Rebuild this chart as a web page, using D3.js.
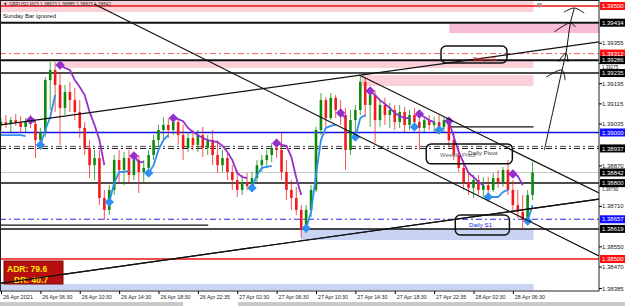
<!DOCTYPE html>
<html>
<head>
<meta charset="utf-8">
<script src="https://cdn.jsdelivr.net/npm/d3@7"></script>
<style>
body { margin: 0; background: #fff; }
svg { display: block; font-family: "Liberation Sans", Arial, sans-serif; }
</style>
</head>
<body>
<svg id="chart" width="625" height="306"></svg>
<script>
// GBPUSD 30 min bars, 26 Apr 02:30 .. 28 Apr 08:30
const opens = [1.39030,1.39041,1.39034,1.39049,1.39038,1.39022,1.39045,1.39034,1.38970,1.39002,
  1.39207,1.39247,1.39188,1.39097,1.39160,1.39128,1.39081,1.39018,1.38939,1.38871,
  1.38899,1.38741,1.38694,1.38773,1.38891,1.38852,1.38899,1.38832,1.38891,1.38844,
  1.38860,1.38911,1.38970,1.39010,1.39030,1.39010,1.39041,1.38990,1.38939,1.38978,
  1.38951,1.38990,1.38939,1.38970,1.38911,1.38871,1.38899,1.38844,1.38812,1.38773,
  1.38804,1.38788,1.38820,1.38871,1.38891,1.38911,1.38939,1.38931,1.38844,1.38773,
  1.38741,1.38694,1.38615,1.38694,1.38773,1.39010,1.39128,1.39057,1.39137,1.39089,
  1.39069,1.38931,1.39049,1.39089,1.39200,1.39109,1.39148,1.39049,1.39109,1.39069,
  1.39089,1.39041,1.39081,1.39030,1.39069,1.39041,1.39018,1.39049,1.39030,1.39041,
  1.39022,1.39049,1.38970,1.38911,1.38860,1.38804,1.38781,1.38812,1.38773,1.38792,
  1.38773,1.38820,1.38804,1.38852,1.38773,1.38713,1.38686,1.38654,1.38753];
const highs = [1.39057,1.39069,1.39061,1.39073,1.39065,1.39057,1.39069,1.39049,1.39018,1.39219,
  1.39279,1.39279,1.39239,1.39188,1.39200,1.39176,1.39128,1.39041,1.38970,1.38931,
  1.38931,1.38773,1.38792,1.38911,1.38931,1.38923,1.38931,1.38911,1.38911,1.38891,
  1.38931,1.38990,1.39030,1.39061,1.39057,1.39061,1.39049,1.39030,1.39002,1.39010,
  1.39010,1.39022,1.38990,1.39010,1.38970,1.38931,1.38919,1.38871,1.38852,1.38832,
  1.38840,1.38844,1.38891,1.38911,1.38931,1.38958,1.38970,1.38998,1.38891,1.38812,
  1.38785,1.38713,1.38713,1.38792,1.39022,1.39156,1.39140,1.39156,1.39148,1.39128,
  1.39097,1.39089,1.39109,1.39227,1.39219,1.39180,1.39168,1.39128,1.39137,1.39117,
  1.39109,1.39109,1.39101,1.39089,1.39097,1.39081,1.39061,1.39069,1.39061,1.39069,
  1.39061,1.39057,1.38998,1.38931,1.38891,1.38840,1.38832,1.38832,1.38824,1.38824,
  1.38840,1.38852,1.38864,1.38891,1.38812,1.38773,1.38753,1.38773,1.38885];
const lows = [1.39010,1.39018,1.39002,1.39026,1.38998,1.39002,1.39018,1.38899,1.38931,1.38982,
  1.39089,1.39081,1.38951,1.39069,1.39081,1.39049,1.38978,1.38911,1.38820,1.38812,
  1.38713,1.38654,1.38674,1.38753,1.38804,1.38792,1.38800,1.38812,1.38761,1.38800,
  1.38832,1.38891,1.38943,1.38970,1.38978,1.38990,1.38951,1.38891,1.38923,1.38931,
  1.38923,1.38903,1.38911,1.38871,1.38840,1.38844,1.38812,1.38773,1.38745,1.38753,
  1.38773,1.38765,1.38804,1.38844,1.38860,1.38883,1.38899,1.38812,1.38733,1.38694,
  1.38674,1.38583,1.38603,1.38666,1.38765,1.38990,1.39022,1.39049,1.39057,1.39030,
  1.38852,1.38911,1.38970,1.39069,1.39061,1.39022,1.38958,1.39022,1.39030,1.39018,
  1.39010,1.39018,1.39002,1.39010,1.39018,1.38931,1.39002,1.39010,1.39002,1.39010,
  1.39002,1.38943,1.38891,1.38844,1.38773,1.38753,1.38741,1.38753,1.38745,1.38753,
  1.38765,1.38781,1.38785,1.38753,1.38694,1.38662,1.38622,1.38634,1.38733];
const closes = [1.39041,1.39034,1.39049,1.39038,1.39022,1.39045,1.39034,1.38970,1.39002,1.39207,
  1.39247,1.39188,1.39097,1.39160,1.39128,1.39081,1.39018,1.38939,1.38871,1.38899,
  1.38741,1.38694,1.38773,1.38891,1.38852,1.38899,1.38832,1.38891,1.38844,1.38860,
  1.38911,1.38970,1.39010,1.39030,1.39010,1.39041,1.38990,1.38939,1.38978,1.38951,
  1.38990,1.38939,1.38970,1.38911,1.38871,1.38899,1.38844,1.38812,1.38773,1.38804,
  1.38788,1.38820,1.38871,1.38891,1.38911,1.38939,1.38931,1.38844,1.38773,1.38741,
  1.38694,1.38615,1.38694,1.38773,1.39010,1.39128,1.39057,1.39137,1.39089,1.39069,
  1.38931,1.39049,1.39089,1.39200,1.39109,1.39148,1.39049,1.39109,1.39069,1.39089,
  1.39041,1.39081,1.39030,1.39069,1.39041,1.39018,1.39049,1.39030,1.39041,1.39022,
  1.39049,1.38970,1.38911,1.38860,1.38804,1.38781,1.38812,1.38773,1.38792,1.38773,
  1.38820,1.38804,1.38852,1.38773,1.38713,1.38686,1.38654,1.38753,1.38842];

// trailing-stop style indicator (purple above price, blue below), null = not drawn
const purpleLine = [null,null,null,null,null,null,1.39049,1.39041,null,null,
  null,null,1.39267,1.39255,1.39247,1.39207,1.39180,1.39148,1.39081,1.39030,
  1.38970,1.38871,null,null,null,null,null,1.38907,1.38883,1.38883,
  null,null,null,null,null,1.39057,1.39053,1.39045,1.39018,1.39002,
  1.38990,1.38978,1.38970,1.38966,1.38962,1.38947,1.38923,1.38891,1.38840,1.38824,
  1.38820,null,null,null,null,null,1.38958,1.38951,1.38947,1.38903,
  1.38820,1.38753,null,null,null,null,null,null,null,1.39077,
  1.39057,null,null,null,null,1.39164,1.39148,1.39128,1.39113,1.39097,
  1.39077,1.39065,1.39057,1.39057,null,1.39073,1.39061,1.39049,1.39041,null,
  null,1.39045,1.38982,1.38923,1.38879,1.38840,1.38824,1.38804,1.38792,null,
  null,null,null,null,1.38836,1.38828,1.38792,null,null];
const blueLine = [1.38990,1.38990,1.38990,1.38990,1.38990,1.38986,null,null,1.38951,1.39010,
  1.39061,1.39148,null,null,null,null,null,null,null,null,
  null,null,1.38725,1.38800,1.38844,1.38844,1.38848,null,null,null,
  1.38840,1.38871,1.38931,1.38970,1.38990,null,null,null,null,null,
  null,null,null,null,null,null,null,null,null,null,
  null,1.38781,1.38832,1.38860,1.38864,1.38868,null,null,null,null,
  null,null,1.38622,1.38686,1.38832,1.38970,1.39018,1.39026,1.39030,null,
  null,null,1.38982,1.39057,1.39069,null,null,null,null,null,
  null,null,null,null,1.39022,null,null,null,null,1.39010,
  1.39018,null,null,null,null,null,null,null,null,1.38745,
  1.38745,1.38745,1.38765,1.38773,null,null,null,1.38650,1.38713];
const purpleSignals = [6, 12, 27, 35, 56, 69, 75, 85, 91, 104];
const blueSignals = [8, 22, 30, 51, 62, 72, 84, 89, 99, 107];

// horizontal levels
const levelPrices = [1.39500, 1.39434, 1.39312, 1.39286, 1.39235, 1.39000, 1.38945, 1.38937, 1.38842, 1.38800, 1.38657, 1.38619, 1.38500];
const levelKinds = ['red', 'blackThick', 'redDashDot', 'blackThick', 'black', 'blue', 'grayDashDot', 'blackDashDot', 'bid', 'black', 'blueDashDot', 'black', 'red'];
const shortLevelPrices = [1.39022, 1.38634];
const shortLevelFrom = [91.1, 0];
const shortLevelTo = [108.2, 42.1];

// supply / demand zones
const zoneTop = [1.39520, 1.39429, 1.39283, 1.39227, 1.38619, 1.38401];
const zoneBottom = [1.39476, 1.39393, 1.39255, 1.39184, 1.38575, 1.38377];
const zoneFrom = [0, 91.1, 12, 73.2, 61, 0];
const zoneTo = [108.2, 122, 108.2, 108.2, 108.2, 108.2];
const zoneKinds = ['pink', 'pinkDeep', 'pink', 'pink', 'blue', 'blue'];

// trend lines [bar1, price1, bar2, price2]
const trendLines = [
  [18.9, 1.39508, 121.5, 1.38512],
  [72.8, 1.39227, 121.5, 1.38761],
  [0, 1.39030, 121.5, 1.39358],
  [0, 1.38405, 121.5, 1.38737]
];

// callout boxes and level names
const calloutFrom = [89.4, 86.4, 92.3];
const calloutTo = [102.8, 103.9, 103.3];
const calloutTop = [1.39342, 1.38955, 1.38674];
const calloutBottom = [1.39275, 1.38876, 1.38595];
const levelNames = ['Daily R1', 'Weekly Pivot', 'Daily Pivot', 'Daily S1'];
const levelNameBar = [95.9, 89.2, 94.9, 95.1];
const levelNamePrice = [1.39284, 1.38903, 1.38911, 1.38626];
const levelNameKinds = ['red', 'gray', 'dark', 'blue'];

// hand drawn arrows
const arrowStroke = [[110.4, 1.38931], [112.2, 1.39089], [114.0, 1.39247], [114.8, 1.39314], [115.7, 1.39433], [116.5, 1.39492]];
const arrowHeads = [
  [[110.8, 1.39219], [114.0, 1.39247], [114.6, 1.39207]],
  [[113.2, 1.39279], [114.8, 1.39314], [115.2, 1.39279]],
  [[112.4, 1.39397], [115.7, 1.39433], [116.7, 1.39417]],
  [[114.4, 1.39476], [116.5, 1.39492], [118.5, 1.39472]]
];

// axes
const priceTicks = [1.39355, 1.39275, 1.39195, 1.39115, 1.39035, 1.38870, 1.38790, 1.38710, 1.38550, 1.38470, 1.38385];
const labelPrices = [1.39500, 1.39434, 1.39312, 1.39286, 1.39235, 1.39000, 1.38937, 1.38842, 1.38800, 1.38657, 1.38619, 1.38500];
const labelKinds = ['red', 'black', 'red', 'black', 'black', 'blue', 'black', 'black', 'black', 'blue', 'black', 'red'];
const timeTicks = [0, 8, 16, 24, 32, 40, 48, 56, 64, 72, 80, 88, 96, 104];
const timeLabels = ['26 Apr 2021', '26 Apr 06:30', '26 Apr 10:30', '26 Apr 14:30', '26 Apr 18:30', '26 Apr 22:35', '27 Apr 02:30',
  '27 Apr 06:30', '27 Apr 10:30', '27 Apr 14:30', '27 Apr 18:30', '27 Apr 22:35', '28 Apr 02:30', '28 Apr 06:30'];
const adrText = ['ADR: 79.6', 'DR: 40.7'];

const plotR = 599, plotB = 291;
const x = d3.scaleLinear().domain([0, 121.5]).range([1, 599]);
const y = d3.scaleLinear().domain([1.385, 1.395]).range([259, 6]);

const bull = '#0b8a0b', bear = '#f21a1a';
const purple = '#9530cc', blue = '#2f8ff2';

const svg = d3.select('#chart');
svg.append('defs').append('clipPath').attr('id', 'plot')
  .append('rect').attr('x', 0).attr('y', 0).attr('width', plotR).attr('height', plotB);
const g = svg.append('g').attr('clip-path', 'url(#plot)');

// zones
const zoneFill = {pink: '#fbd0d8', pinkDeep: '#f9bcd6', blue: '#c9d3f3'};
g.selectAll('rect.zone').data(zoneTop).join('rect').attr('class', 'zone')
  .attr('x', (d, i) => x(zoneFrom[i]))
  .attr('width', (d, i) => x(zoneTo[i]) - x(zoneFrom[i]))
  .attr('y', (d, i) => y(d))
  .attr('height', (d, i) => y(zoneBottom[i]) - y(d))
  .attr('fill', (d, i) => zoneFill[zoneKinds[i]]);

// levels
const levelStyle = {
  red: {c: '#ee1111', w: 1.5, dash: null},
  blackThick: {c: '#111', w: 2, dash: null},
  black: {c: '#111', w: 1.5, dash: null},
  redDashDot: {c: '#f06060', w: 1, dash: '6,3,2,3'},
  blue: {c: '#1010e0', w: 1.3, dash: null},
  grayDashDot: {c: '#555', w: 1, dash: '6,3,2,3'},
  blackDashDot: {c: '#111', w: 1, dash: '6,3,2,3'},
  bid: {c: '#c8c8c8', w: 1, dash: null},
  blueDashDot: {c: '#2a2af0', w: 1, dash: '6,3,2,3'}
};
g.selectAll('line.level').data(levelPrices).join('line').attr('class', 'level')
  .attr('x1', 0).attr('x2', plotR)
  .attr('y1', d => y(d)).attr('y2', d => y(d))
  .attr('stroke', (d, i) => levelStyle[levelKinds[i]].c)
  .attr('stroke-width', (d, i) => levelStyle[levelKinds[i]].w)
  .attr('stroke-dasharray', (d, i) => levelStyle[levelKinds[i]].dash);
g.selectAll('line.short').data(shortLevelPrices).join('line').attr('class', 'short')
  .attr('x1', (d, i) => x(shortLevelFrom[i])).attr('x2', (d, i) => x(shortLevelTo[i]))
  .attr('y1', d => y(d)).attr('y2', d => y(d))
  .attr('stroke', '#111').attr('stroke-width', 1.2);

// candles
const bars = d3.range(opens.length).map(i => ({i, o: opens[i], h: highs[i], l: lows[i], c: closes[i]}));
const cg = g.append('g');
cg.selectAll('line').data(bars).join('line')
  .attr('x1', d => x(d.i)).attr('x2', d => x(d.i))
  .attr('y1', d => y(d.h)).attr('y2', d => y(d.l))
  .attr('stroke', d => d.c >= d.o ? bull : bear)
  .attr('stroke-opacity', 0.75).attr('stroke-width', 1);
cg.selectAll('rect').data(bars).join('rect')
  .attr('x', d => x(d.i) - 1.3).attr('width', 2.6)
  .attr('y', d => y(Math.max(d.o, d.c)))
  .attr('height', d => Math.max(1, Math.abs(y(d.o) - y(d.c))))
  .attr('fill', d => d.c >= d.o ? bull : bear);

// indicator lines
const ind = d3.line().defined(d => d != null).x((d, i) => x(i)).y(d => y(d));
g.append('path').attr('d', ind(purpleLine)).attr('fill', 'none').attr('stroke', purple).attr('stroke-width', 1.8);
g.append('path').attr('d', ind(blueLine)).attr('fill', 'none').attr('stroke', blue).attr('stroke-width', 1.8);
const diamond = d3.symbol(d3.symbolSquare, 44);
g.selectAll('path.ps').data(purpleSignals).join('path').attr('class', 'ps')
  .attr('d', diamond)
  .attr('transform', i => `translate(${x(i)},${y(purpleLine[i])}) rotate(45)`)
  .attr('fill', purple);
g.selectAll('path.bs').data(blueSignals).join('path').attr('class', 'bs')
  .attr('d', diamond)
  .attr('transform', i => `translate(${x(i)},${y(blueLine[i])}) rotate(45)`)
  .attr('fill', blue);

// trend lines
g.selectAll('line.trend').data(trendLines).join('line').attr('class', 'trend')
  .attr('x1', d => x(d[0])).attr('y1', d => y(d[1]))
  .attr('x2', d => x(d[2])).attr('y2', d => y(d[3]))
  .attr('stroke', '#111').attr('stroke-width', 1.2);

// callouts
g.selectAll('rect.callout').data(calloutTop).join('rect').attr('class', 'callout')
  .attr('x', (d, i) => x(calloutFrom[i]))
  .attr('width', (d, i) => x(calloutTo[i]) - x(calloutFrom[i]))
  .attr('y', d => y(d))
  .attr('height', (d, i) => y(calloutBottom[i]) - y(d))
  .attr('rx', 5).attr('fill', 'none').attr('stroke', '#111').attr('stroke-width', 1.5);
const nameColor = {red: '#e82020', gray: '#666', dark: '#333', blue: '#2020e0'};
g.selectAll('text.lname').data(levelNames).join('text').attr('class', 'lname')
  .attr('x', (d, i) => x(levelNameBar[i]))
  .attr('y', (d, i) => y(levelNamePrice[i]))
  .attr('font-size', 6.2)
  .attr('fill', (d, i) => nameColor[levelNameKinds[i]])
  .text(d => d);

// hand drawn arrows
const pen = d3.line().x(d => x(d[0])).y(d => y(d[1]));
g.append('path').attr('d', pen.curve(d3.curveCatmullRom)(arrowStroke))
  .attr('fill', 'none').attr('stroke', '#111').attr('stroke-width', 1);
g.selectAll('path.head').data(arrowHeads).join('path').attr('class', 'head')
  .attr('d', d => d3.line().x(p => x(p[0])).y(p => y(p[1])).curve(d3.curveCatmullRom)(d))
  .attr('fill', 'none').attr('stroke', '#111').attr('stroke-width', 1);

// ADR panel
const adr = svg.append('g');
adr.append('rect').attr('x', 4).attr('y', 261).attr('width', 59).attr('height', 23)
  .attr('fill', '#b5100f').attr('stroke', '#7a0808');
adr.selectAll('text').data(adrText).join('text')
  .attr('x', (d, i) => i ? 14 : 7).attr('y', (d, i) => i ? 283 : 272)
  .attr('font-size', 8.5).attr('font-weight', 'bold').attr('fill', '#ffee00')
  .text(d => d);
// the lower trend line runs over the panel
svg.append('line')
  .attr('x1', x(trendLines[3][0])).attr('y1', y(trendLines[3][1]))
  .attr('x2', x(trendLines[3][2])).attr('y2', y(trendLines[3][3]))
  .attr('stroke', '#111').attr('stroke-width', 1.2)
  .attr('clip-path', 'url(#plot)');

// header texts
svg.append('text').attr('x', 3).attr('y', 6).attr('font-size', 5.5).attr('fill', '#333')
  .attr('textLength', 108).attr('lengthAdjust', 'spacingAndGlyphs')
  .text('\u25BC GBPUSD,M15  1.38823 1.38885 1.38815 1.38842');
svg.append('text').attr('x', 3).attr('y', 18).attr('font-size', 6).attr('fill', '#111')
  .text('Sunday Bar ignored');
// chart shift marker
svg.append('path')
  .attr('d', d3.symbol(d3.symbolTriangle, 14)())
  .attr('transform', `translate(${x(109.4)},5) rotate(180)`)
  .attr('fill', '#999');

// frame
svg.append('rect').attr('x', 0.5).attr('y', 0.5).attr('width', plotR - 0.5).attr('height', plotB - 0.5)
  .attr('fill', 'none').attr('stroke', '#222').attr('stroke-width', 1);

// price axis; grid labels squeezed by a coloured label get a smaller size and sit just below it
const ay = svg.append('g').attr('transform', `translate(${plotR},0)`)
  .call(d3.axisRight(y).tickValues(priceTicks).tickSize(3).tickPadding(0).tickFormat(d3.format('.5f')));
ay.select('.domain').remove();
const squeezed = d => labelPrices.some(p => Math.abs(y(p) - y(d)) < 7);
ay.selectAll('text').attr('font-family', '"Liberation Sans", Arial, sans-serif').attr('fill', '#222')
  .attr('font-size', d => squeezed(d) ? 4.5 : 6)
  .attr('dy', d => squeezed(d) ? '1.15em' : '0.32em');
const labelBg = {red: '#ff1010', black: '#000', blue: '#1010ff'};
const lg = svg.append('g');
lg.selectAll('rect').data(labelPrices).join('rect')
  .attr('x', 600).attr('width', 25)
  .attr('y', d => y(d) - 4).attr('height', 8)
  .attr('fill', (d, i) => labelBg[labelKinds[i]]);
lg.selectAll('text').data(labelPrices).join('text')
  .attr('x', 602).attr('y', d => y(d) + 2.2)
  .attr('font-size', 6).attr('fill', '#fff')
  .text(d => d3.format('.5f')(d));

// time axis
const ax = svg.append('g').attr('transform', `translate(0,${plotB})`)
  .call(d3.axisBottom(x).tickValues(timeTicks).tickSize(3).tickPadding(1).tickFormat((d, k) => timeLabels[k]));
ax.select('.domain').remove();
ax.selectAll('text').attr('text-anchor', 'start').attr('dx', 1.5)
  .attr('font-size', 5.5).attr('font-family', '"Liberation Sans", Arial, sans-serif').attr('fill', '#222')
  .attr('textLength', 30).attr('lengthAdjust', 'spacingAndGlyphs');

// window strip at the bottom
svg.append('rect').attr('x', 0).attr('y', 302).attr('width', 625).attr('height', 4).attr('fill', '#c9c9c9');
svg.append('rect').attr('x', 183).attr('y', 302).attr('width', 55).attr('height', 4).attr('fill', '#fff');
</script>
</body>
</html>
